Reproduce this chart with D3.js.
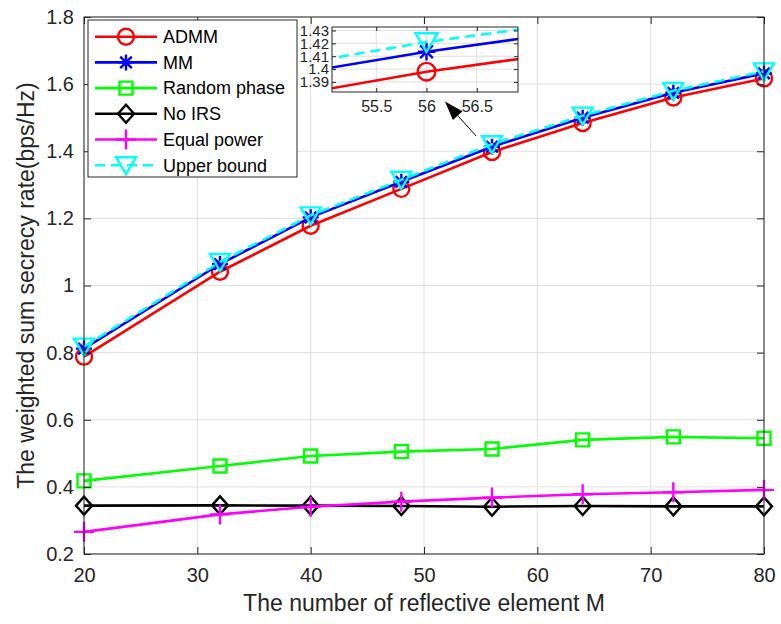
<!DOCTYPE html>
<meta charset="utf-8">
<style>
body { margin: 0; background: #fff; }
text {
  font-family: "Liberation Sans", Arial, sans-serif;
  fill: #262626;
}
.grid line { stroke: #dfdfdf; stroke-width: 1px; }
.series path.line { fill: none; stroke-width: 2.6px; }
.mk { fill: none; stroke-width: 2.4px; }
</style>
<svg></svg>
<script src="https://d3js.org/d3.v7.min.js"></script>
<script>

// data
var M = [20, 32, 40, 48, 56, 64, 72, 80];
var admm = [0.788, 1.041, 1.178, 1.288, 1.398, 1.484, 1.560, 1.617];
var mm = [0.812, 1.064, 1.203, 1.309, 1.4135, 1.500, 1.574, 1.632];
var randomPhase = [0.418, 0.462, 0.492, 0.505, 0.513, 0.540, 0.549, 0.545];
var noIRS = [0.344, 0.345, 0.344, 0.343, 0.341, 0.343, 0.342, 0.342];
var equalPower = [0.266, 0.318, 0.341, 0.356, 0.368, 0.378, 0.384, 0.391];
var upperBound = [0.818, 1.070, 1.209, 1.315, 1.421, 1.506, 1.580, 1.638];

var names = ["ADMM", "MM", "Random phase", "No IRS", "Equal power", "Upper bound"];
var colors = ["#ff0000", "#0000ff", "#00ff00", "#000000", "#ff00ff", "#00ffff"];
var markers = ["circle", "star", "square", "diamond", "plus", "triangle"];
var values = [admm, mm, randomPhase, noIRS, equalPower, upperBound];

var xTicks = [20, 30, 40, 50, 60, 70, 80];
var yTicks = [0.2, 0.4, 0.6, 0.8, 1, 1.2, 1.4, 1.6, 1.8];
var insetXTicks = [55.5, 56, 56.5];
var insetYTicks = [1.39, 1.4, 1.41, 1.42, 1.43];

var series = names.map(function(n, i) {
  return {
    name: n, color: colors[i], marker: markers[i], dashed: i == 5,
    points: M.map(function(m, j) { return {x: m, y: values[i][j]}; })
  };
});

var svg = d3.select("svg")
    .attr("width", 781)
    .attr("height", 624);

var x = d3.scaleLinear().domain([20, 80]).range([84, 764]),
    y = d3.scaleLinear().domain([0.2, 1.8]).range([554, 17]);

// matlab-like tick text: 1 not 1.0, 56 not 56.0
var numFmt = function(d) { return String(+d.toFixed(2)); };

function markerPath(type, k) {
  k = k || 1;
  var r;
  switch (type) {
    case "circle":
      r = 8 * k;
      return "M" + r + ",0A" + r + "," + r + " 0 1,1 " + (-r) + ",0A" + r + "," + r + " 0 1,1 " + r + ",0";
    case "square":
      r = 6.5 * k;
      return "M" + (-r) + "," + (-r) + "H" + r + "V" + r + "H" + (-r) + "Z";
    case "diamond":
      return "M0," + (-9 * k) + "L" + (8 * k) + ",0L0," + (9 * k) + "L" + (-8 * k) + ",0Z";
    case "triangle":
      return "M" + (-10 * k) + "," + (-8 * k) + "L" + (10 * k) + "," + (-8 * k) + "L0," + (9 * k) + "Z";
    case "plus":
      r = 10 * k;
      return "M0," + (-r) + "V" + r + "M" + (-r) + ",0H" + r;
    case "star":
      r = 8 * k; var d = r * 0.72;
      return "M0," + (-r) + "V" + r + "M" + (-r) + ",0H" + r +
        "M" + (-d) + "," + (-d) + "L" + d + "," + d + "M" + (-d) + "," + d + "L" + d + "," + (-d);
  }
}

/*GRID*/
var grid = svg.append("g").attr("class", "grid");
grid.selectAll("line.gx").data(xTicks).enter().append("line")
    .attr("x1", function(d) { return x(d); }).attr("x2", function(d) { return x(d); })
    .attr("y1", y(0.2)).attr("y2", y(1.8));
grid.selectAll("line.gy").data(yTicks).enter().append("line")
    .attr("y1", function(d) { return y(d); }).attr("y2", function(d) { return y(d); })
    .attr("x1", x(20)).attr("x2", x(80));

/*LINES + MARKERS*/
function drawSeries(g, sx, sy, k, keep) {
  var line = d3.line()
      .x(function(d) { return sx(d.x); })
      .y(function(d) { return sy(d.y); });

  var s = g.selectAll("g.series")
      .data(series.filter(function(d) { return !keep || keep.indexOf(d.name) >= 0; }))
      .enter().append("g")
      .attr("class", "series");

  s.append("path")
      .attr("class", "line")
      .attr("d", function(d) { return line(d.points); })
      .style("stroke", function(d) { return d.color; })
      .style("stroke-dasharray", function(d) { return d.dashed ? "10,6" : null; });

  s.each(function(d) {
    d3.select(this).selectAll("path.mk")
        .data(d.points.filter(function(p) {
          var dom = sx.domain();
          return p.x >= dom[0] && p.x <= dom[1];
        }))
        .enter().append("path")
        .attr("class", "mk")
        .attr("d", markerPath(d.marker, k))
        .attr("transform", function(p) { return "translate(" + sx(p.x) + "," + sy(p.y) + ")"; })
        .style("stroke", d.color);
  });
}
drawSeries(svg.append("g"), x, y, 1);

/*AXES BOX*/
var axes = svg.append("g");
axes.append("rect")
    .attr("x", x(20)).attr("y", y(1.8))
    .attr("width", x(80) - x(20)).attr("height", y(0.2) - y(1.8))
    .style("fill", "none").style("stroke", "#262626").style("stroke-width", 1);

axes.append("g")
    .attr("transform", "translate(0," + y(0.2) + ")")
    .call(d3.axisBottom(x).tickValues(xTicks).tickSizeInner(-7).tickSizeOuter(0).tickPadding(14).tickFormat(numFmt))
    .call(function(g) { g.select(".domain").remove(); });
axes.append("g")
    .attr("transform", "translate(0," + y(1.8) + ")")
    .call(d3.axisTop(x).tickValues(xTicks).tickSizeInner(-7).tickSizeOuter(0).tickFormat(""))
    .call(function(g) { g.select(".domain").remove(); });
axes.append("g")
    .attr("transform", "translate(" + x(20) + ",0)")
    .call(d3.axisLeft(y).tickValues(yTicks).tickSizeInner(-7).tickSizeOuter(0).tickPadding(10).tickFormat(numFmt))
    .call(function(g) { g.select(".domain").remove(); });
axes.append("g")
    .attr("transform", "translate(" + x(80) + ",0)")
    .call(d3.axisRight(y).tickValues(yTicks).tickSizeInner(-7).tickSizeOuter(0).tickFormat(""))
    .call(function(g) { g.select(".domain").remove(); });

axes.selectAll(".tick line").style("stroke", "#262626");
axes.selectAll(".tick text")
    .style("font-size", "20px")
    .style("font-family", "'Liberation Sans', Arial, sans-serif")
    .style("fill", "#262626");

svg.append("text")
    .attr("x", (x(20) + x(80)) / 2)
    .attr("y", 611)
    .attr("text-anchor", "middle")
    .style("font-size", "23px")
    .text("The number of reflective element M");

svg.append("text")
    .attr("transform", "translate(34," + (y(0.2) + y(1.8)) / 2 + ") rotate(-90)")
    .attr("text-anchor", "middle")
    .style("font-size", "23px")
    .text("The weighted sum secrecy rate(bps/Hz)");

/*ZOOM INSET*/
var ix = d3.scaleLinear().domain([55.06, 56.91]).range([332, 518]),
    iy = d3.scaleLinear().domain([1.3822, 1.4327]).range([92, 27]);

var inset = svg.append("g");
inset.append("rect")
    .attr("x", 332).attr("y", 27).attr("width", 186).attr("height", 65)
    .style("fill", "#fff");

svg.append("clipPath").attr("id", "insetClip")
  .append("rect").attr("x", 332).attr("y", 27).attr("width", 186).attr("height", 65);

var ig = inset.append("g").attr("class", "grid");
ig.selectAll("line.gx").data(insetXTicks).enter().append("line")
    .attr("x1", function(d) { return ix(d); }).attr("x2", function(d) { return ix(d); })
    .attr("y1", 27).attr("y2", 92);
ig.selectAll("line.gy").data(insetYTicks).enter().append("line")
    .attr("y1", function(d) { return iy(d); }).attr("y2", function(d) { return iy(d); })
    .attr("x1", 332).attr("x2", 518);

drawSeries(inset.append("g").attr("clip-path", "url(#insetClip)"), ix, iy, 1.1,
  ["ADMM", "MM", "Upper bound"]);

inset.append("rect")
    .attr("x", 332).attr("y", 27).attr("width", 186).attr("height", 65)
    .style("fill", "none").style("stroke", "#262626");

var iaxes = inset.append("g");
iaxes.append("g").attr("transform", "translate(0,92)")
    .call(d3.axisBottom(ix).tickValues(insetXTicks).tickSizeInner(-4).tickSizeOuter(0).tickPadding(9).tickFormat(numFmt))
    .call(function(g) { g.select(".domain").remove(); });
iaxes.append("g").attr("transform", "translate(0,27)")
    .call(d3.axisTop(ix).tickValues(insetXTicks).tickSizeInner(-4).tickSizeOuter(0).tickFormat(""))
    .call(function(g) { g.select(".domain").remove(); });
iaxes.append("g").attr("transform", "translate(332,0)")
    .call(d3.axisLeft(iy).tickValues(insetYTicks).tickSizeInner(-4).tickSizeOuter(0).tickPadding(3).tickFormat(numFmt))
    .call(function(g) { g.select(".domain").remove(); });
iaxes.append("g").attr("transform", "translate(518,0)")
    .call(d3.axisRight(iy).tickValues(insetYTicks).tickSizeInner(-4).tickSizeOuter(0).tickFormat(""))
    .call(function(g) { g.select(".domain").remove(); });
iaxes.selectAll(".tick line").style("stroke", "#262626");
iaxes.selectAll(".tick text")
    .style("font-size", "15px")
    .style("font-family", "'Liberation Sans', Arial, sans-serif")
    .style("fill", "#262626");
// the labels of the inset's x axis are a bit larger in the figure
iaxes.select("g").selectAll(".tick text").style("font-size", "16px");

/*ARROW pointing to the zoomed region*/
var tail = [x(54.6), y(1.4455)], tip = [x(51.85), y(1.548)];
var ang = Math.atan2(tip[1] - tail[1], tip[0] - tail[0]);
var hl = 19, hw = 6.5;
var base = [tip[0] - hl * Math.cos(ang), tip[1] - hl * Math.sin(ang)];
svg.append("line")
    .attr("x1", tail[0]).attr("y1", tail[1])
    .attr("x2", base[0]).attr("y2", base[1])
    .style("stroke", "#000").style("stroke-width", 1);
svg.append("path")
    .attr("d", "M" + tip + "L" + [base[0] + hw * Math.sin(ang), base[1] - hw * Math.cos(ang)] +
      "L" + [base[0] - hw * Math.sin(ang), base[1] + hw * Math.cos(ang)] + "Z")
    .style("fill", "#000");

/*LEGEND*/
var legend = svg.append("g").attr("transform", "translate(88,20)");
legend.append("rect")
    .attr("width", 209).attr("height", 157)
    .style("fill", "#fff").style("stroke", "#262626").style("stroke-width", 1);

var item = legend.selectAll("g.item")
    .data(series)
    .enter().append("g")
    .attr("class", "item")
    .attr("transform", function(d, i) { return "translate(0," + (16.7 + i * 25.7) + ")"; });

item.append("line")
    .attr("x1", 7).attr("x2", 69)
    .style("stroke", function(d) { return d.color; })
    .style("stroke-width", 2.6)
    .style("stroke-dasharray", function(d) { return d.dashed ? "10,6" : null; });
item.append("path")
    .attr("class", "mk")
    .attr("transform", "translate(38,0)")
    .attr("d", function(d) { return markerPath(d.marker, 1); })
    .style("stroke", function(d) { return d.color; });
item.append("text")
    .attr("x", 75)
    .attr("dy", "0.35em")
    .style("font-size", "18px")
    .style("fill", "#000")
    .text(function(d) { return d.name; });

</script>
